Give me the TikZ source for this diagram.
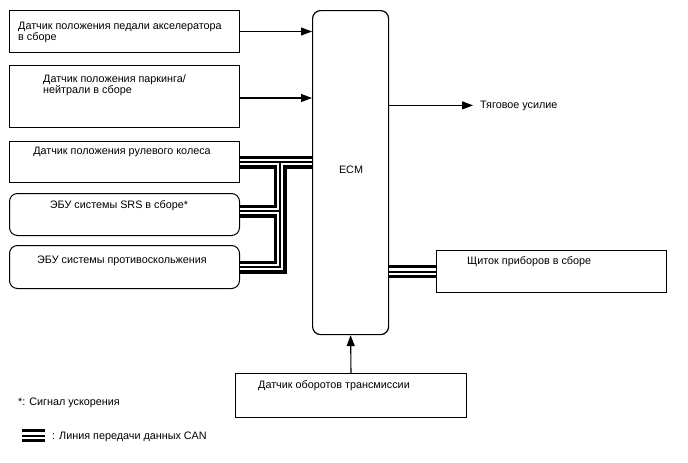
\documentclass[tikz,border=0pt]{standalone}
\usepackage{fontspec}
\setmainfont{Liberation Sans}
\usetikzlibrary{arrows.meta,calc}
\newcommand\fs{\fontsize{10.8}{11}\selectfont}
\begin{document}
\begin{tikzpicture}[x=1pt,y=-1pt,
  box/.style={draw,line width=1pt,inner sep=0pt,anchor=north west},
  rbox/.style={box,rounded corners=8pt},
  txt/.style={anchor=base west,inner sep=0pt,font=\fs,align=left},
  arr/.style={-{Triangle[length=11pt,width=8pt]},line width=1.1pt},
  canout/.style={line width=13pt,black},
  canmid/.style={line width=6.5pt,white},
  cancore/.style={line width=2pt,black}]
\useasboundingbox (0,0) rectangle (688,463);
% boxes
\node[box,minimum width=230pt,minimum height=42pt] (acc) at (9,10) {};
\node[box,minimum width=230pt,minimum height=62pt] (park) at (9,65) {};
\node[box,minimum width=230pt,minimum height=41pt] (steer) at (9,141) {};
\node[rbox,minimum width=230pt,minimum height=42pt] (srs) at (9,193) {};
\node[rbox,minimum width=230pt,minimum height=43pt] (anti) at (9,245) {};
\node[rbox,line width=1.2pt,minimum width=76pt,minimum height=324pt] (ecm) at (312,10) {};
\node[box,minimum width=230pt,minimum height=42pt] (clus) at (436,250) {};
\node[box,minimum width=231pt,minimum height=44pt] (trans) at (235,373) {};
% texts
\node[txt] at (18,40) {Датчик положения педали акселератора\\в сборе};
\node[txt] at (43,93) {Датчик положения паркинга/\\нейтрали в сборе};
\node[txt,anchor=base] at (122,154) {Датчик положения рулевого колеса};
\node[txt,anchor=base] at (119,208) {ЭБУ системы SRS в сборе*};
\node[txt,anchor=base] at (122,263) {ЭБУ системы противоскольжения};
\node[txt,anchor=base] at (351,173) {ECM};
\node[txt] (tv) at (480,108) {Тяговое усилие};
\node[txt] at (467,264) {Щиток приборов в сборе};
\node[txt] at (258,388) {Датчик оборотов трансмиссии};
\node[txt] at (18,405) {*: Сигнал ускорения};
\node[txt] at (52,439) {: Линия передачи данных CAN};
% arrows
\draw[arr] (acc.east) -- (ecm.west |- acc.east);
\coordinate (pk) at ($(park.north east)+(0,33)$);
\draw[arr] (pk) -- (ecm.west |- pk);
\draw[arr] (ecm.east |- tv.west) -- ([xshift=-7pt]tv.west);
\draw[arr] (trans.north) -- (ecm.south);
% CAN bus
\coordinate (tj) at (280,161.5);
\coordinate (sb) at (280,211);
\coordinate (lg1) at (22,435.5);
\coordinate (lg2) at (45,435.5);
\newcommand\canbus[1]{%
  \draw[#1] (steer.east) -- (ecm.west |- steer.east);
  \draw[#1,line join=miter] (tj) -- (tj |- anti.east) -- (anti.east);
  \draw[#1] (srs.east |- sb) -- (sb);
  \draw[#1] (ecm.east |- clus.west) -- (clus.west);
  \draw[#1] (lg1) -- (lg2);}
\canbus{canout}
\canbus{canmid}
\canbus{cancore}
\end{tikzpicture}
\end{document}
